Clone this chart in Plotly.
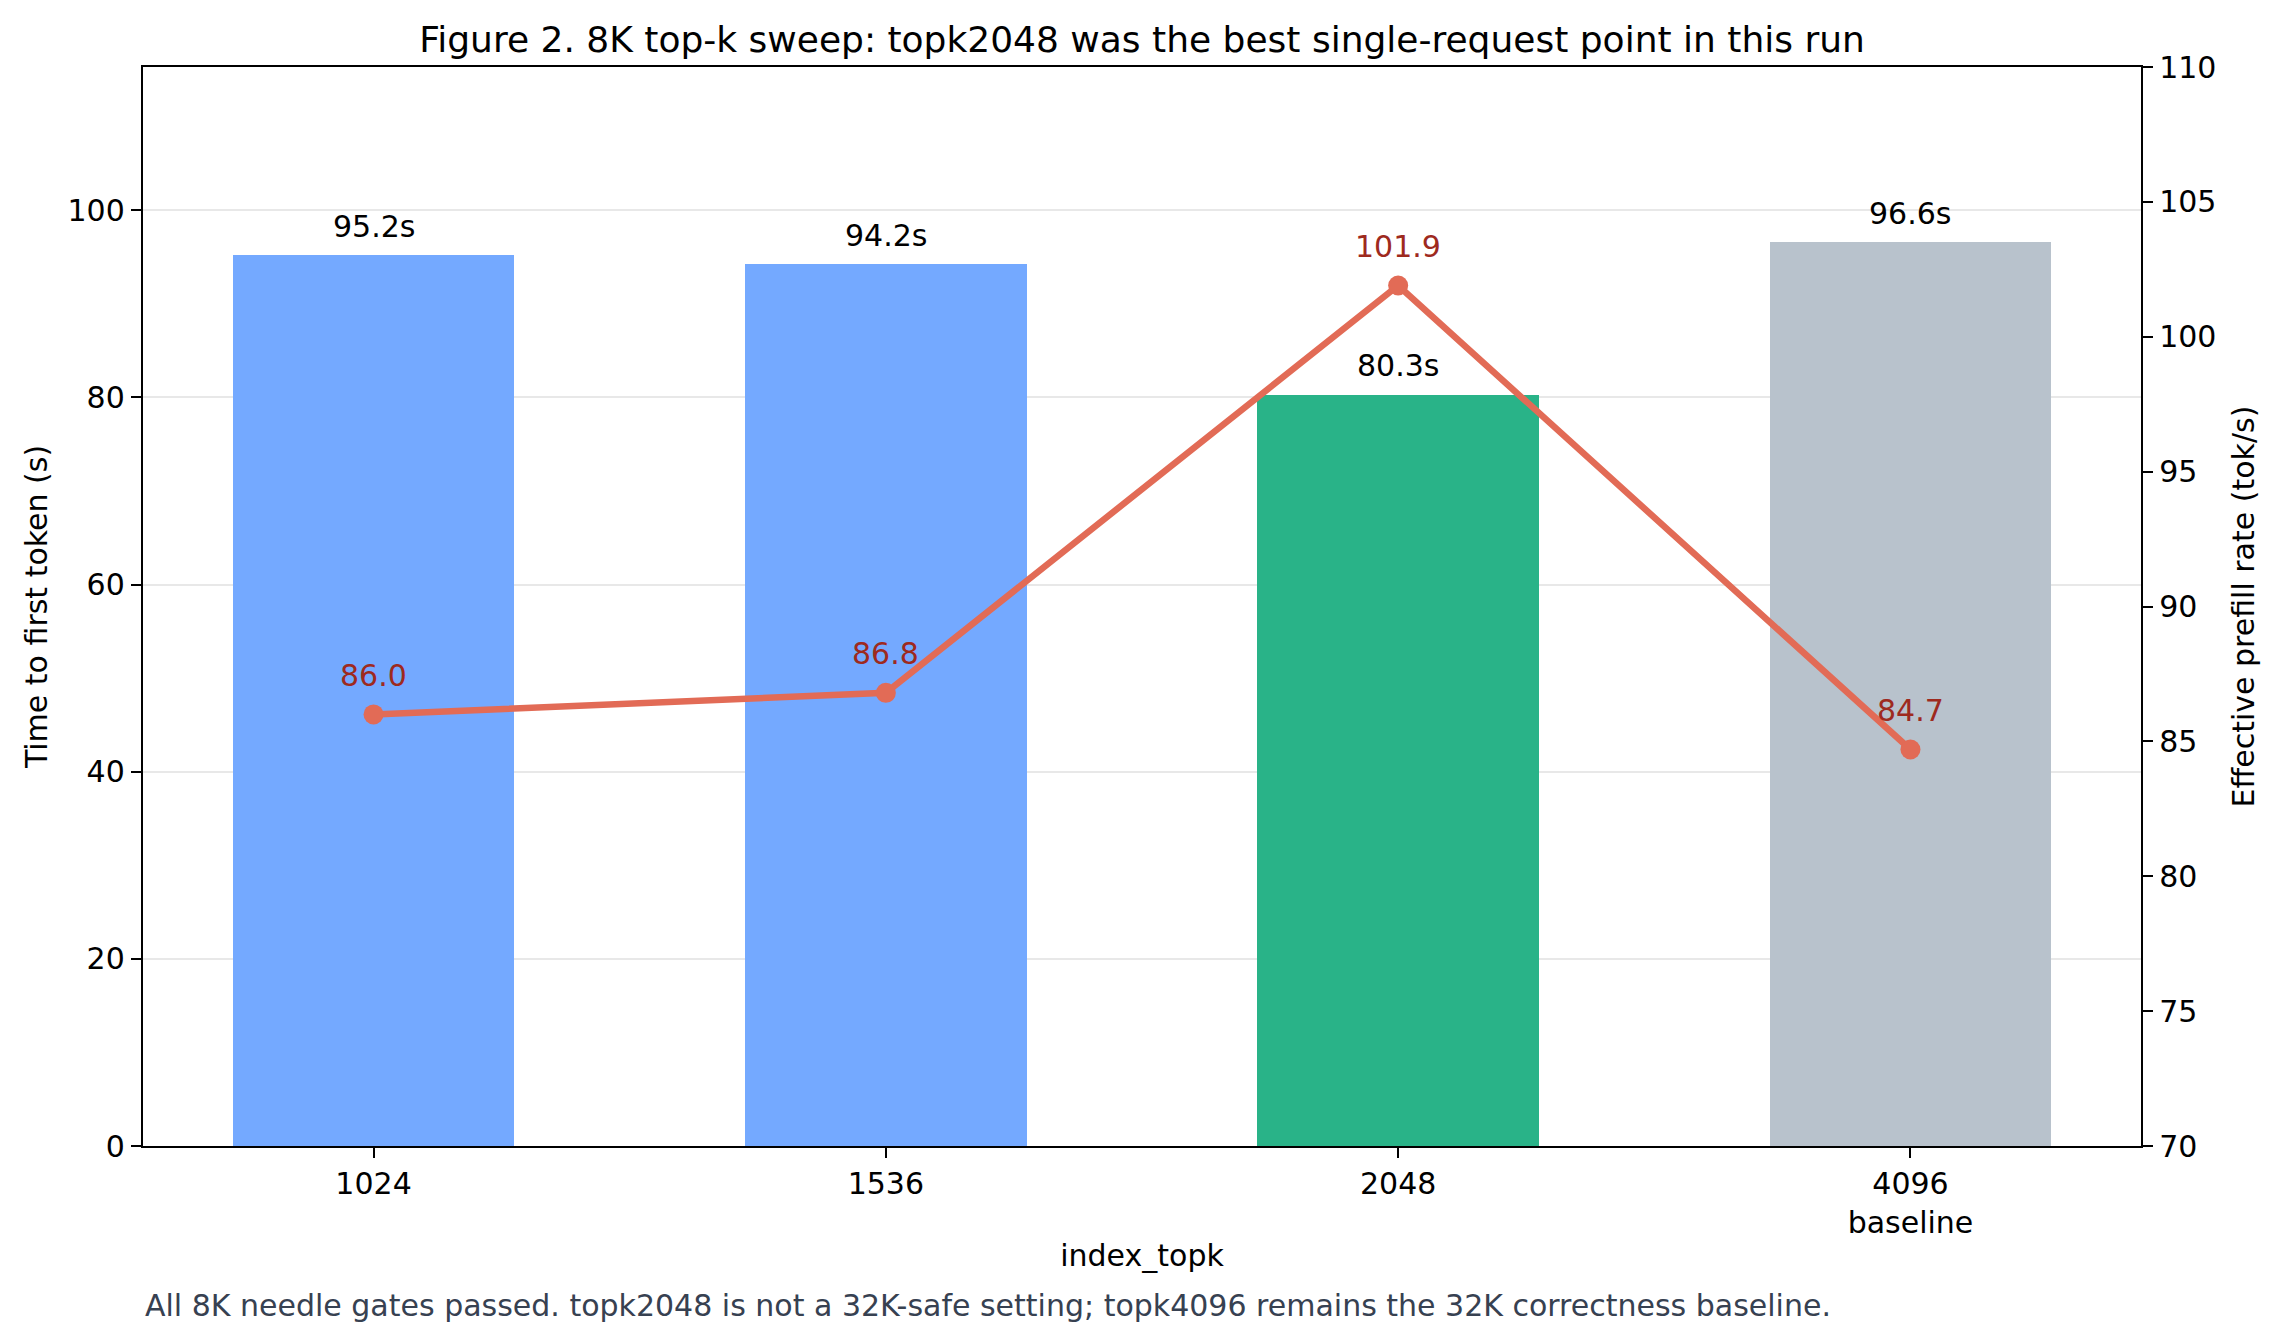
import plotly.graph_objects as go

categories = ["1024", "1536", "2048", "4096<br>baseline"]
ttft_s = [95.2, 94.2, 80.3, 96.6]
prefill_rate = [86.0, 86.8, 101.9, 84.7]
bar_colors = ["#74A9FF", "#74A9FF", "#29B388", "#B8C2CC"]
left_ticks = [0, 20, 40, 60, 80, 100]
right_ticks = [70, 75, 80, 85, 90, 95, 100, 105, 110]

FONT = "DejaVu Sans"
FS = 30
xs = list(range(len(categories)))

fig = go.Figure()
fig.add_trace(go.Bar(
    x=xs, y=ttft_s, marker=dict(color=bar_colors, line=dict(width=0)),
    width=0.55, showlegend=False, hoverinfo="skip", yaxis="y"))
fig.add_trace(go.Scatter(
    x=xs, y=prefill_rate, mode="lines+markers", yaxis="y2",
    line=dict(color="#E26B56", width=6.5),
    marker=dict(color="#E26B56", size=20),
    showlegend=False, hoverinfo="skip"))

annotations = []
for x, v in zip(xs, ttft_s):
    annotations.append(dict(x=x, y=v, xref="x", yref="y", text=f"{v:.1f}s",
                            showarrow=False, yshift=29,
                            font=dict(family=FONT, size=FS, color="#000000")))
for x, v in zip(xs, prefill_rate):
    annotations.append(dict(x=x, y=v, xref="x", yref="y2", text=f"{v:.1f}",
                            showarrow=False, yshift=39,
                            font=dict(family=FONT, size=FS, color="#9E2A1E")))
annotations.append(dict(x=0, y=0, xref="paper", yref="paper", xanchor="left",
                        yanchor="middle", yshift=-159,
                        text="All 8K needle gates passed. topk2048 is not a 32K-safe setting; topk4096 remains the 32K correctness baseline.",
                        showarrow=False, font=dict(family=FONT, size=FS, color="#374151")))

fig.update_layout(
    width=2284, height=1343,
    margin=dict(l=143, r=143, t=67, b=197),
    paper_bgcolor="white", plot_bgcolor="white",
    font=dict(family=FONT, size=FS, color="#000000"),
    title=dict(text="Figure 2. 8K top-k sweep: topk2048 was the best single-request point in this run",
               x=0.5, xanchor="center", y=1 - 39 / 1343, yanchor="middle",
               font=dict(family=FONT, size=36, color="#000000")),
    xaxis=dict(range=[-0.45, 3.45], tickvals=xs, ticktext=categories,
               showline=True, linecolor="black", linewidth=2.4, mirror=True,
               ticks="outside", ticklen=10, tickwidth=2.4, tickcolor="black",
               showgrid=False, zeroline=False, tickfont=dict(size=FS),
               title=dict(text="index_topk", font=dict(size=FS), standoff=6)),
    yaxis=dict(range=[0, 115.3], tickvals=left_ticks,
               showline=True, linecolor="black", linewidth=2.4,
               ticks="outside", ticklen=10, tickwidth=2.4, tickcolor="black",
               showgrid=True, gridcolor="#E8E8E8", gridwidth=1.5, zeroline=False,
               tickfont=dict(size=FS),
               title=dict(text="Time to first token (s)", font=dict(size=FS), standoff=11)),
    yaxis2=dict(range=[70, 110], tickvals=right_ticks, overlaying="y", side="right",
                showline=True, linecolor="black", linewidth=2.4,
                ticks="outside", ticklen=10, tickwidth=2.4, tickcolor="black",
                showgrid=False, zeroline=False, tickfont=dict(size=FS),
                title=dict(text="Effective prefill rate (tok/s)", font=dict(size=FS), standoff=18)),
    annotations=annotations,
    bargap=0,
)

fig.write_html("out.html")
